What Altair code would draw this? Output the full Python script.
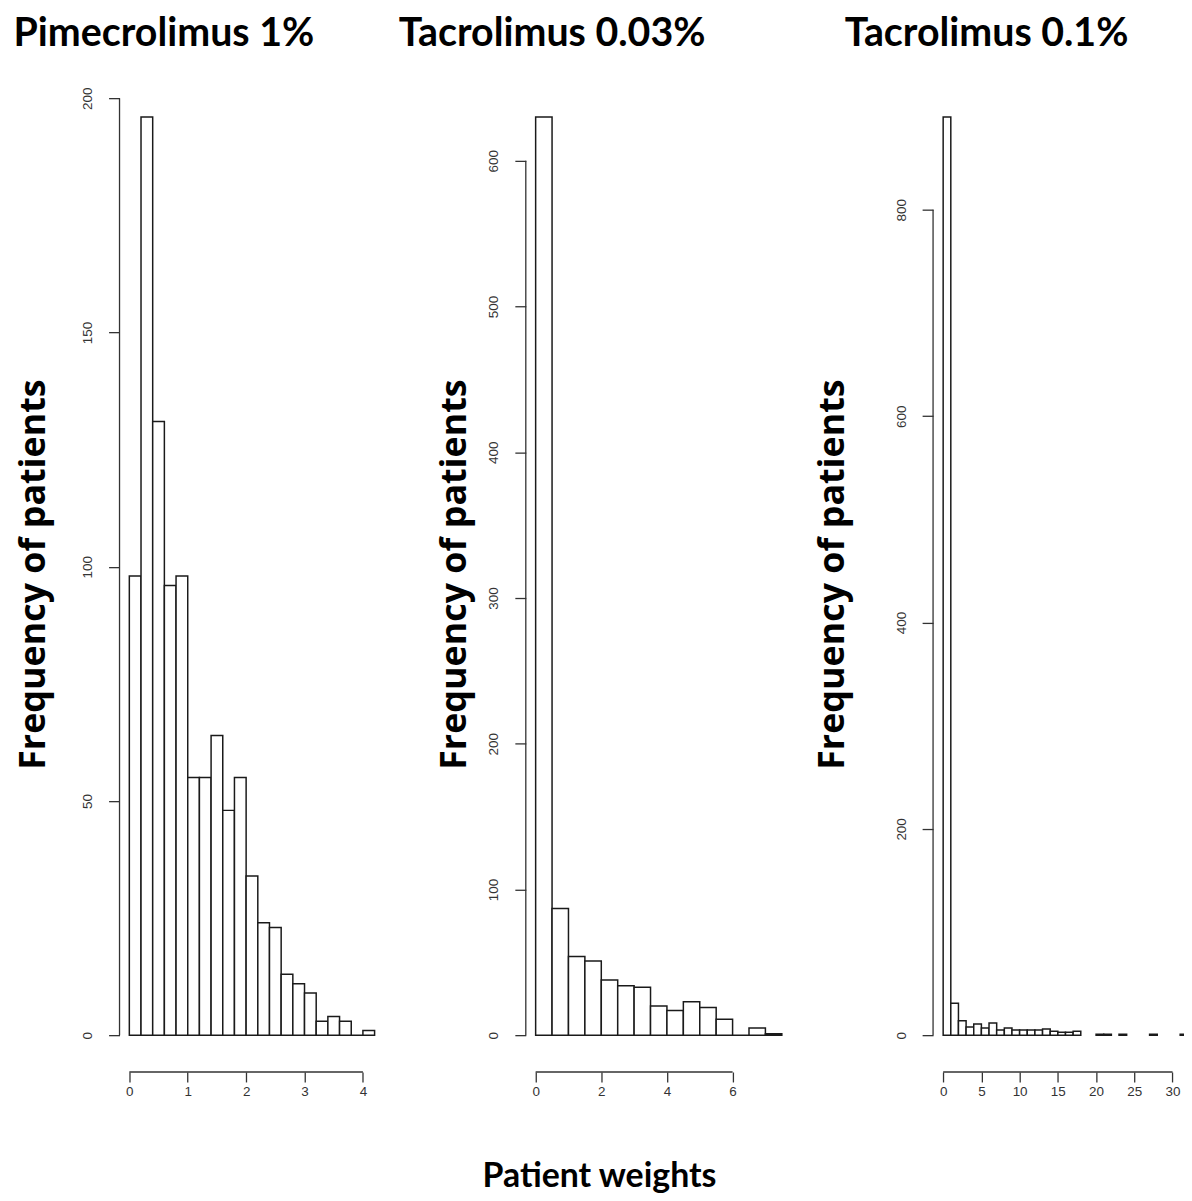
import altair as alt
import pandas as pd

FONT = "Lato"
YT_FONT = "Open Sans"
TICK_FONT = "Liberation Sans"
H = 996

# ---- data ----
p1_title = "Pimecrolimus 1%"
p1_bin = 0.2
p1_starts = [0.0, 0.2, 0.4, 0.6, 0.8, 1.0, 1.2, 1.4, 1.6, 1.8, 2.0,
             2.2, 2.4, 2.6, 2.8, 3.0, 3.2, 3.4, 3.6, 3.8, 4.0]
p1_counts = [98, 196, 131, 96, 98, 55, 55, 64, 48, 55, 34,
             24, 23, 13, 11, 9, 3, 4, 3, 0, 1]
p1_xticks = [0, 1, 2, 3, 4]
p1_yticks = [0, 50, 100, 150, 200]

p2_title = "Tacrolimus 0.03%"
p2_bin = 0.5
p2_starts = [0.0, 0.5, 1.0, 1.5, 2.0, 2.5, 3.0, 3.5, 4.0, 4.5, 5.0,
             5.5, 6.0, 6.5, 7.0]
p2_counts = [630, 87, 54, 51, 38, 34, 33, 20, 17, 23, 19, 11, 0, 5, 1]
p2_xticks = [0, 2, 4, 6]
p2_yticks = [0, 100, 200, 300, 400, 500, 600]

p3_title = "Tacrolimus 0.1%"
p3_bin = 1
p3_starts = list(range(0, 32))
p3_counts = [890, 31, 14, 8, 11, 7, 12, 5, 7, 5, 5, 5, 5, 6, 4, 3,
             3, 4, 0, 0, 1, 1, 0, 1, 0, 0, 0, 1, 0, 0, 0, 1]
p3_xticks = [0, 5, 10, 15, 20, 25, 30]
p3_yticks = [0, 200, 400, 600, 800]

y_title = "Frequency of patients"
x_title = "Patient weights"


def panel(title, title_dx, starts, binw, counts, xdom, ydom, xticks, yticks,
          W, ytitle_x, xtitle=None, xtitle_x=0, drop_zero=False):
    df = pd.DataFrame({"x0": starts, "count": counts})
    df["x1"] = df["x0"] + binw
    df["base"] = 0
    if drop_zero:
        df = df[df["count"] > 0]

    xaxis_kw = dict(values=xticks, domain=False, grid=False, tickSize=10,
                    tickColor="#333", tickWidth=1.3, labelPadding=3,
                    labelFontSize=13.5, labelFont=TICK_FONT, labelColor="#333",
                    labelOverlap=False, labelFlush=False)
    if xtitle:
        xaxis = alt.Axis(title=xtitle, titleFont=FONT, titleFontSize=34,
                         titleFontWeight="bold", titleColor="black",
                         titleX=xtitle_x, titleY=115, titleAlign="center",
                         titleBaseline="alphabetic", **xaxis_kw)
    else:
        xaxis = alt.Axis(title="", **xaxis_kw)

    yaxis = alt.Axis(values=yticks, domain=False, grid=False, tickSize=11,
                     tickColor="#333", tickWidth=1.3, labelAngle=270,
                     labelAlign="center", labelBaseline="bottom",
                     labelPadding=14, labelFontSize=13.5, labelFont=TICK_FONT,
                     labelColor="#333", title=y_title, titleFont=YT_FONT,
                     titleFontSize=36, titleFontWeight="bold",
                     titleColor="black", titleX=ytitle_x, titleY=H / 2 - 2,
                     titleAngle=270, titleAlign="center",
                     titleBaseline="middle")

    xscale = alt.Scale(domain=xdom, nice=False, zero=False)
    yscale = alt.Scale(domain=ydom, nice=False, zero=False)

    bars = alt.Chart(df).mark_rect(fill="white", stroke="#1a1a1a",
                                   strokeWidth=1.5, clip=True).encode(
        x=alt.X("x0:Q", scale=xscale, axis=xaxis),
        x2="x1:Q",
        y=alt.Y("count:Q", scale=yscale, axis=yaxis),
        y2="base:Q",
    )

    yline = alt.Chart(pd.DataFrame({"lo": [min(yticks)], "hi": [max(yticks)]})
                      ).mark_rule(color="#333", strokeWidth=1.3).encode(
        x=alt.value(0), y=alt.Y("lo:Q", scale=yscale, axis=yaxis), y2="hi:Q")
    xline = alt.Chart(pd.DataFrame({"lo": [min(xticks)], "hi": [max(xticks)]})
                      ).mark_rule(color="#333", strokeWidth=1.3).encode(
        y=alt.value(H), x=alt.X("lo:Q", scale=xscale, axis=xaxis), x2="hi:Q")

    return alt.layer(bars, yline, xline).properties(
        width=W, height=H,
        title=alt.TitleParams(title, anchor="start", frame="group",
                              dx=title_dx, offset=-5, fontSize=39.5, font=FONT,
                              fontWeight="bold", color="black",
                              baseline="alphabetic"),
    )


c1 = panel(p1_title, -106.4, p1_starts, p1_bin, p1_counts,
           [-0.168, 4.368], [-7.84, 203.84], p1_xticks, p1_yticks,
           266, -86)
c2 = panel(p2_title, -127.5, p2_starts, p2_bin, p2_counts,
           [-0.3, 7.8], [-25.2, 655.2], p2_xticks, p2_yticks,
           267, -72, xtitle=x_title, xtitle_x=73.5)
c3 = panel(p3_title, -88.8, p3_starts, p3_bin, p3_counts,
           [-1.32, 31.5], [-35.6, 925.6], p3_xticks, p3_yticks,
           252, -101, drop_zero=True)

chart = alt.hconcat(c1, c2, c3, spacing=142, bounds="flush").properties(
    padding={"left": 5, "top": 3, "right": 0, "bottom": 0}
).configure_view(stroke=None)

chart.save("out.html", embed_options={"renderer": "svg", "actions": False})
